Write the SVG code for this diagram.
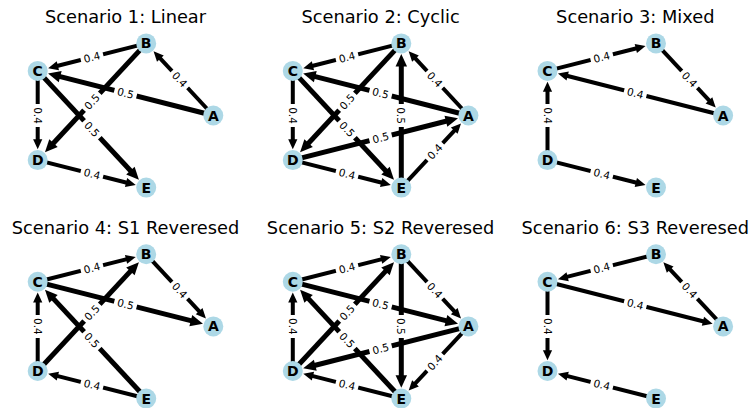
<svg xmlns="http://www.w3.org/2000/svg" width="753" height="408" viewBox="0 0 753 408">
<style>
.t{font-family:"DejaVu Sans",Verdana,sans-serif;font-size:17.8px;text-anchor:middle;fill:#000}
.e path{stroke:#000;fill:none;marker-end:url(#ah)}
.w5{stroke-width:5}
.w4{stroke-width:4}
.n circle{fill:#add8e6}
.n text{font-family:"DejaVu Sans",sans-serif;font-weight:bold;font-size:14px;text-anchor:middle;fill:#000}
.l text{font-family:"DejaVu Sans",sans-serif;font-size:10.5px;text-anchor:middle;fill:#000}
</style>
<defs>
<marker id="ah" markerUnits="strokeWidth" markerWidth="3" markerHeight="3" refX="1" refY="0" orient="auto" overflow="visible"><path d="M0,-1.15 L2.5,0 L0,1.15 z" fill="#000"/></marker>
<rect id="lb" x="-11.5" y="-7" width="23" height="14" rx="4" fill="#fff"/>
</defs>

<text class="t" x="125.5" y="22.5">Scenario 1: Linear</text>
<text class="t" x="380.6" y="22.5">Scenario 2: Cyclic</text>
<text class="t" x="635.3" y="22.5">Scenario 3: Mixed</text>
<text class="t" x="125.5" y="233.5">Scenario 4: S1 Reveresed</text>
<text class="t" x="380.6" y="233.5">Scenario 5: S2 Reveresed</text>
<text class="t" x="635.3" y="233.5">Scenario 6: S3 Reveresed</text>

<!-- Panel 1 -->
<g id="p1" transform="translate(116.2,115.5)">
<g id="p1-edges" class="e">
<path class="w4" d="M30,-72.1 L-62.22,-48.73"/>
<path class="w4" d="M97.1,0 L41.45,-59.8"/>
<path class="w5" d="M97.1,0 L-60.86,-40.12"/>
<path class="w4" d="M-78.5,-44.6 L-78.5,27.8"/>
<path class="w5" d="M30,-72.1 L-66.11,31.27"/>
<path class="w5" d="M-78.5,-44.6 L17.61,58.77"/>
<path class="w4" d="M-78.5,44.6 L13.72,67.97"/>
</g>
<g id="p1-A" class="n" transform="translate(97.1,0)"><circle r="10"/><text y="5">A</text></g>
<g id="p1-B" class="n" transform="translate(30,-72.1)"><circle r="10"/><text y="5">B</text></g>
<g id="p1-C" class="n" transform="translate(-78.5,-44.6)"><circle r="10"/><text y="5">C</text></g>
<g id="p1-D" class="n" transform="translate(-78.5,44.6)"><circle r="10"/><text y="5">D</text></g>
<g id="p1-E" class="n" transform="translate(30,72.1)"><circle r="10"/><text y="5">E</text></g>
<g id="p1-labels" class="l">
<g transform="translate(-24.25,-58.35) rotate(-14.22)"><use href="#lb"/><text y="3.8">0.4</text></g>
<g transform="translate(63.55,-36.05) rotate(47.06)"><use href="#lb"/><text y="3.8">0.4</text></g>
<g transform="translate(9.3,-22.3) rotate(14.25)"><use href="#lb"/><text y="3.8">0.5</text></g>
<g transform="translate(-78.5,0) rotate(90)"><use href="#lb"/><text y="3.8">0.4</text></g>
<g transform="translate(-24.25,-13.75) rotate(-47.08)"><use href="#lb"/><text y="3.8">0.5</text></g>
<g transform="translate(-24.25,13.75) rotate(47.08)"><use href="#lb"/><text y="3.8">0.5</text></g>
<g transform="translate(-24.25,58.35) rotate(14.22)"><use href="#lb"/><text y="3.8">0.4</text></g>
</g>
</g>

<!-- Panel 2 -->
<g id="p2" transform="translate(371.3,115.5)">
<g id="p2-edges" class="e">
<path class="w4" d="M30,-72.1 L-62.22,-48.73"/>
<path class="w4" d="M97.1,0 L41.45,-59.8"/>
<path class="w5" d="M97.1,0 L-60.86,-40.12"/>
<path class="w4" d="M-78.5,-44.6 L-78.5,27.8"/>
<path class="w5" d="M30,-72.1 L-66.11,31.27"/>
<path class="w5" d="M-78.5,-44.6 L17.61,58.77"/>
<path class="w4" d="M-78.5,44.6 L13.72,67.97"/>
<path class="w5" d="M30,72.1 L30,-53.9"/>
<path class="w5" d="M-78.5,44.6 L79.46,4.48"/>
<path class="w4" d="M30,72.1 L85.65,12.3"/>
</g>
<g id="p2-A" class="n" transform="translate(97.1,0)"><circle r="10"/><text y="5">A</text></g>
<g id="p2-B" class="n" transform="translate(30,-72.1)"><circle r="10"/><text y="5">B</text></g>
<g id="p2-C" class="n" transform="translate(-78.5,-44.6)"><circle r="10"/><text y="5">C</text></g>
<g id="p2-D" class="n" transform="translate(-78.5,44.6)"><circle r="10"/><text y="5">D</text></g>
<g id="p2-E" class="n" transform="translate(30,72.1)"><circle r="10"/><text y="5">E</text></g>
<g id="p2-labels" class="l">
<g transform="translate(-24.25,-58.35) rotate(-14.22)"><use href="#lb"/><text y="3.8">0.4</text></g>
<g transform="translate(63.55,-36.05) rotate(47.06)"><use href="#lb"/><text y="3.8">0.4</text></g>
<g transform="translate(9.3,-22.3) rotate(14.25)"><use href="#lb"/><text y="3.8">0.5</text></g>
<g transform="translate(-78.5,0) rotate(90)"><use href="#lb"/><text y="3.8">0.4</text></g>
<g transform="translate(-24.25,-13.75) rotate(-47.08)"><use href="#lb"/><text y="3.8">0.5</text></g>
<g transform="translate(-24.25,13.75) rotate(47.08)"><use href="#lb"/><text y="3.8">0.5</text></g>
<g transform="translate(-24.25,58.35) rotate(14.22)"><use href="#lb"/><text y="3.8">0.4</text></g>
<g transform="translate(30,0) rotate(90)"><use href="#lb"/><text y="3.8">0.5</text></g>
<g transform="translate(9.3,22.3) rotate(-14.25)"><use href="#lb"/><text y="3.8">0.5</text></g>
<g transform="translate(63.55,36.05) rotate(-47.06)"><use href="#lb"/><text y="3.8">0.4</text></g>
</g>
</g>

<!-- Panel 3 -->
<g id="p3" transform="translate(626,115.5)">
<g id="p3-edges" class="e">
<path class="w4" d="M-78.5,-44.6 L13.72,-67.97"/>
<path class="w4" d="M30,-72.1 L85.65,-12.3"/>
<path class="w4" d="M97.1,0 L-62.22,-40.46"/>
<path class="w4" d="M-78.5,44.6 L-78.5,-27.8"/>
<path class="w4" d="M-78.5,44.6 L13.72,67.97"/>
</g>
<g id="p3-A" class="n" transform="translate(97.1,0)"><circle r="10"/><text y="5">A</text></g>
<g id="p3-B" class="n" transform="translate(30,-72.1)"><circle r="10"/><text y="5">B</text></g>
<g id="p3-C" class="n" transform="translate(-78.5,-44.6)"><circle r="10"/><text y="5">C</text></g>
<g id="p3-D" class="n" transform="translate(-78.5,44.6)"><circle r="10"/><text y="5">D</text></g>
<g id="p3-E" class="n" transform="translate(30,72.1)"><circle r="10"/><text y="5">E</text></g>
<g id="p3-labels" class="l">
<g transform="translate(-24.25,-58.35) rotate(-14.22)"><use href="#lb"/><text y="3.8">0.4</text></g>
<g transform="translate(63.55,-36.05) rotate(47.06)"><use href="#lb"/><text y="3.8">0.4</text></g>
<g transform="translate(9.3,-22.3) rotate(14.25)"><use href="#lb"/><text y="3.8">0.4</text></g>
<g transform="translate(-78.5,0) rotate(90)"><use href="#lb"/><text y="3.8">0.4</text></g>
<g transform="translate(-24.25,58.35) rotate(14.22)"><use href="#lb"/><text y="3.8">0.4</text></g>
</g>
</g>

<!-- Panel 4 -->
<g id="p4" transform="translate(116.2,326.4)">
<g id="p4-edges" class="e">
<path class="w4" d="M-78.5,-44.6 L13.72,-67.97"/>
<path class="w4" d="M30,-72.1 L85.65,-12.3"/>
<path class="w5" d="M-78.5,-44.6 L79.46,-4.48"/>
<path class="w4" d="M-78.5,44.6 L-78.5,-27.8"/>
<path class="w5" d="M-78.5,44.6 L17.61,-58.77"/>
<path class="w5" d="M30,72.1 L-66.11,-31.27"/>
<path class="w4" d="M30,72.1 L-62.22,48.73"/>
</g>
<g id="p4-A" class="n" transform="translate(97.1,0)"><circle r="10"/><text y="5">A</text></g>
<g id="p4-B" class="n" transform="translate(30,-72.1)"><circle r="10"/><text y="5">B</text></g>
<g id="p4-C" class="n" transform="translate(-78.5,-44.6)"><circle r="10"/><text y="5">C</text></g>
<g id="p4-D" class="n" transform="translate(-78.5,44.6)"><circle r="10"/><text y="5">D</text></g>
<g id="p4-E" class="n" transform="translate(30,72.1)"><circle r="10"/><text y="5">E</text></g>
<g id="p4-labels" class="l">
<g transform="translate(-24.25,-58.35) rotate(-14.22)"><use href="#lb"/><text y="3.8">0.4</text></g>
<g transform="translate(63.55,-36.05) rotate(47.06)"><use href="#lb"/><text y="3.8">0.4</text></g>
<g transform="translate(9.3,-22.3) rotate(14.25)"><use href="#lb"/><text y="3.8">0.5</text></g>
<g transform="translate(-78.5,0) rotate(90)"><use href="#lb"/><text y="3.8">0.4</text></g>
<g transform="translate(-24.25,-13.75) rotate(-47.08)"><use href="#lb"/><text y="3.8">0.5</text></g>
<g transform="translate(-24.25,13.75) rotate(47.08)"><use href="#lb"/><text y="3.8">0.5</text></g>
<g transform="translate(-24.25,58.35) rotate(14.22)"><use href="#lb"/><text y="3.8">0.4</text></g>
</g>
</g>

<!-- Panel 5 -->
<g id="p5" transform="translate(371.3,326.4)">
<g id="p5-edges" class="e">
<path class="w4" d="M-78.5,-44.6 L13.72,-67.97"/>
<path class="w4" d="M30,-72.1 L85.65,-12.3"/>
<path class="w5" d="M-78.5,-44.6 L79.46,-4.48"/>
<path class="w4" d="M-78.5,44.6 L-78.5,-27.8"/>
<path class="w5" d="M-78.5,44.6 L17.61,-58.77"/>
<path class="w5" d="M30,72.1 L-66.11,-31.27"/>
<path class="w4" d="M30,72.1 L-62.22,48.73"/>
<path class="w5" d="M30,-72.1 L30,53.9"/>
<path class="w5" d="M97.1,0 L-60.86,40.12"/>
<path class="w4" d="M97.1,0 L41.45,59.8"/>
</g>
<g id="p5-A" class="n" transform="translate(97.1,0)"><circle r="10"/><text y="5">A</text></g>
<g id="p5-B" class="n" transform="translate(30,-72.1)"><circle r="10"/><text y="5">B</text></g>
<g id="p5-C" class="n" transform="translate(-78.5,-44.6)"><circle r="10"/><text y="5">C</text></g>
<g id="p5-D" class="n" transform="translate(-78.5,44.6)"><circle r="10"/><text y="5">D</text></g>
<g id="p5-E" class="n" transform="translate(30,72.1)"><circle r="10"/><text y="5">E</text></g>
<g id="p5-labels" class="l">
<g transform="translate(-24.25,-58.35) rotate(-14.22)"><use href="#lb"/><text y="3.8">0.4</text></g>
<g transform="translate(63.55,-36.05) rotate(47.06)"><use href="#lb"/><text y="3.8">0.4</text></g>
<g transform="translate(9.3,-22.3) rotate(14.25)"><use href="#lb"/><text y="3.8">0.5</text></g>
<g transform="translate(-78.5,0) rotate(90)"><use href="#lb"/><text y="3.8">0.4</text></g>
<g transform="translate(-24.25,-13.75) rotate(-47.08)"><use href="#lb"/><text y="3.8">0.5</text></g>
<g transform="translate(-24.25,13.75) rotate(47.08)"><use href="#lb"/><text y="3.8">0.5</text></g>
<g transform="translate(-24.25,58.35) rotate(14.22)"><use href="#lb"/><text y="3.8">0.4</text></g>
<g transform="translate(30,0) rotate(90)"><use href="#lb"/><text y="3.8">0.5</text></g>
<g transform="translate(9.3,22.3) rotate(-14.25)"><use href="#lb"/><text y="3.8">0.5</text></g>
<g transform="translate(63.55,36.05) rotate(-47.06)"><use href="#lb"/><text y="3.8">0.4</text></g>
</g>
</g>

<!-- Panel 6 -->
<g id="p6" transform="translate(626,326.4)">
<g id="p6-edges" class="e">
<path class="w4" d="M30,-72.1 L-62.22,-48.73"/>
<path class="w4" d="M97.1,0 L41.45,-59.8"/>
<path class="w4" d="M-78.5,-44.6 L80.82,-4.14"/>
<path class="w4" d="M-78.5,-44.6 L-78.5,27.8"/>
<path class="w4" d="M30,72.1 L-62.22,48.73"/>
</g>
<g id="p6-A" class="n" transform="translate(97.1,0)"><circle r="10"/><text y="5">A</text></g>
<g id="p6-B" class="n" transform="translate(30,-72.1)"><circle r="10"/><text y="5">B</text></g>
<g id="p6-C" class="n" transform="translate(-78.5,-44.6)"><circle r="10"/><text y="5">C</text></g>
<g id="p6-D" class="n" transform="translate(-78.5,44.6)"><circle r="10"/><text y="5">D</text></g>
<g id="p6-E" class="n" transform="translate(30,72.1)"><circle r="10"/><text y="5">E</text></g>
<g id="p6-labels" class="l">
<g transform="translate(-24.25,-58.35) rotate(-14.22)"><use href="#lb"/><text y="3.8">0.4</text></g>
<g transform="translate(63.55,-36.05) rotate(47.06)"><use href="#lb"/><text y="3.8">0.4</text></g>
<g transform="translate(9.3,-22.3) rotate(14.25)"><use href="#lb"/><text y="3.8">0.4</text></g>
<g transform="translate(-78.5,0) rotate(90)"><use href="#lb"/><text y="3.8">0.4</text></g>
<g transform="translate(-24.25,58.35) rotate(14.22)"><use href="#lb"/><text y="3.8">0.4</text></g>
</g>
</g>
</svg>
